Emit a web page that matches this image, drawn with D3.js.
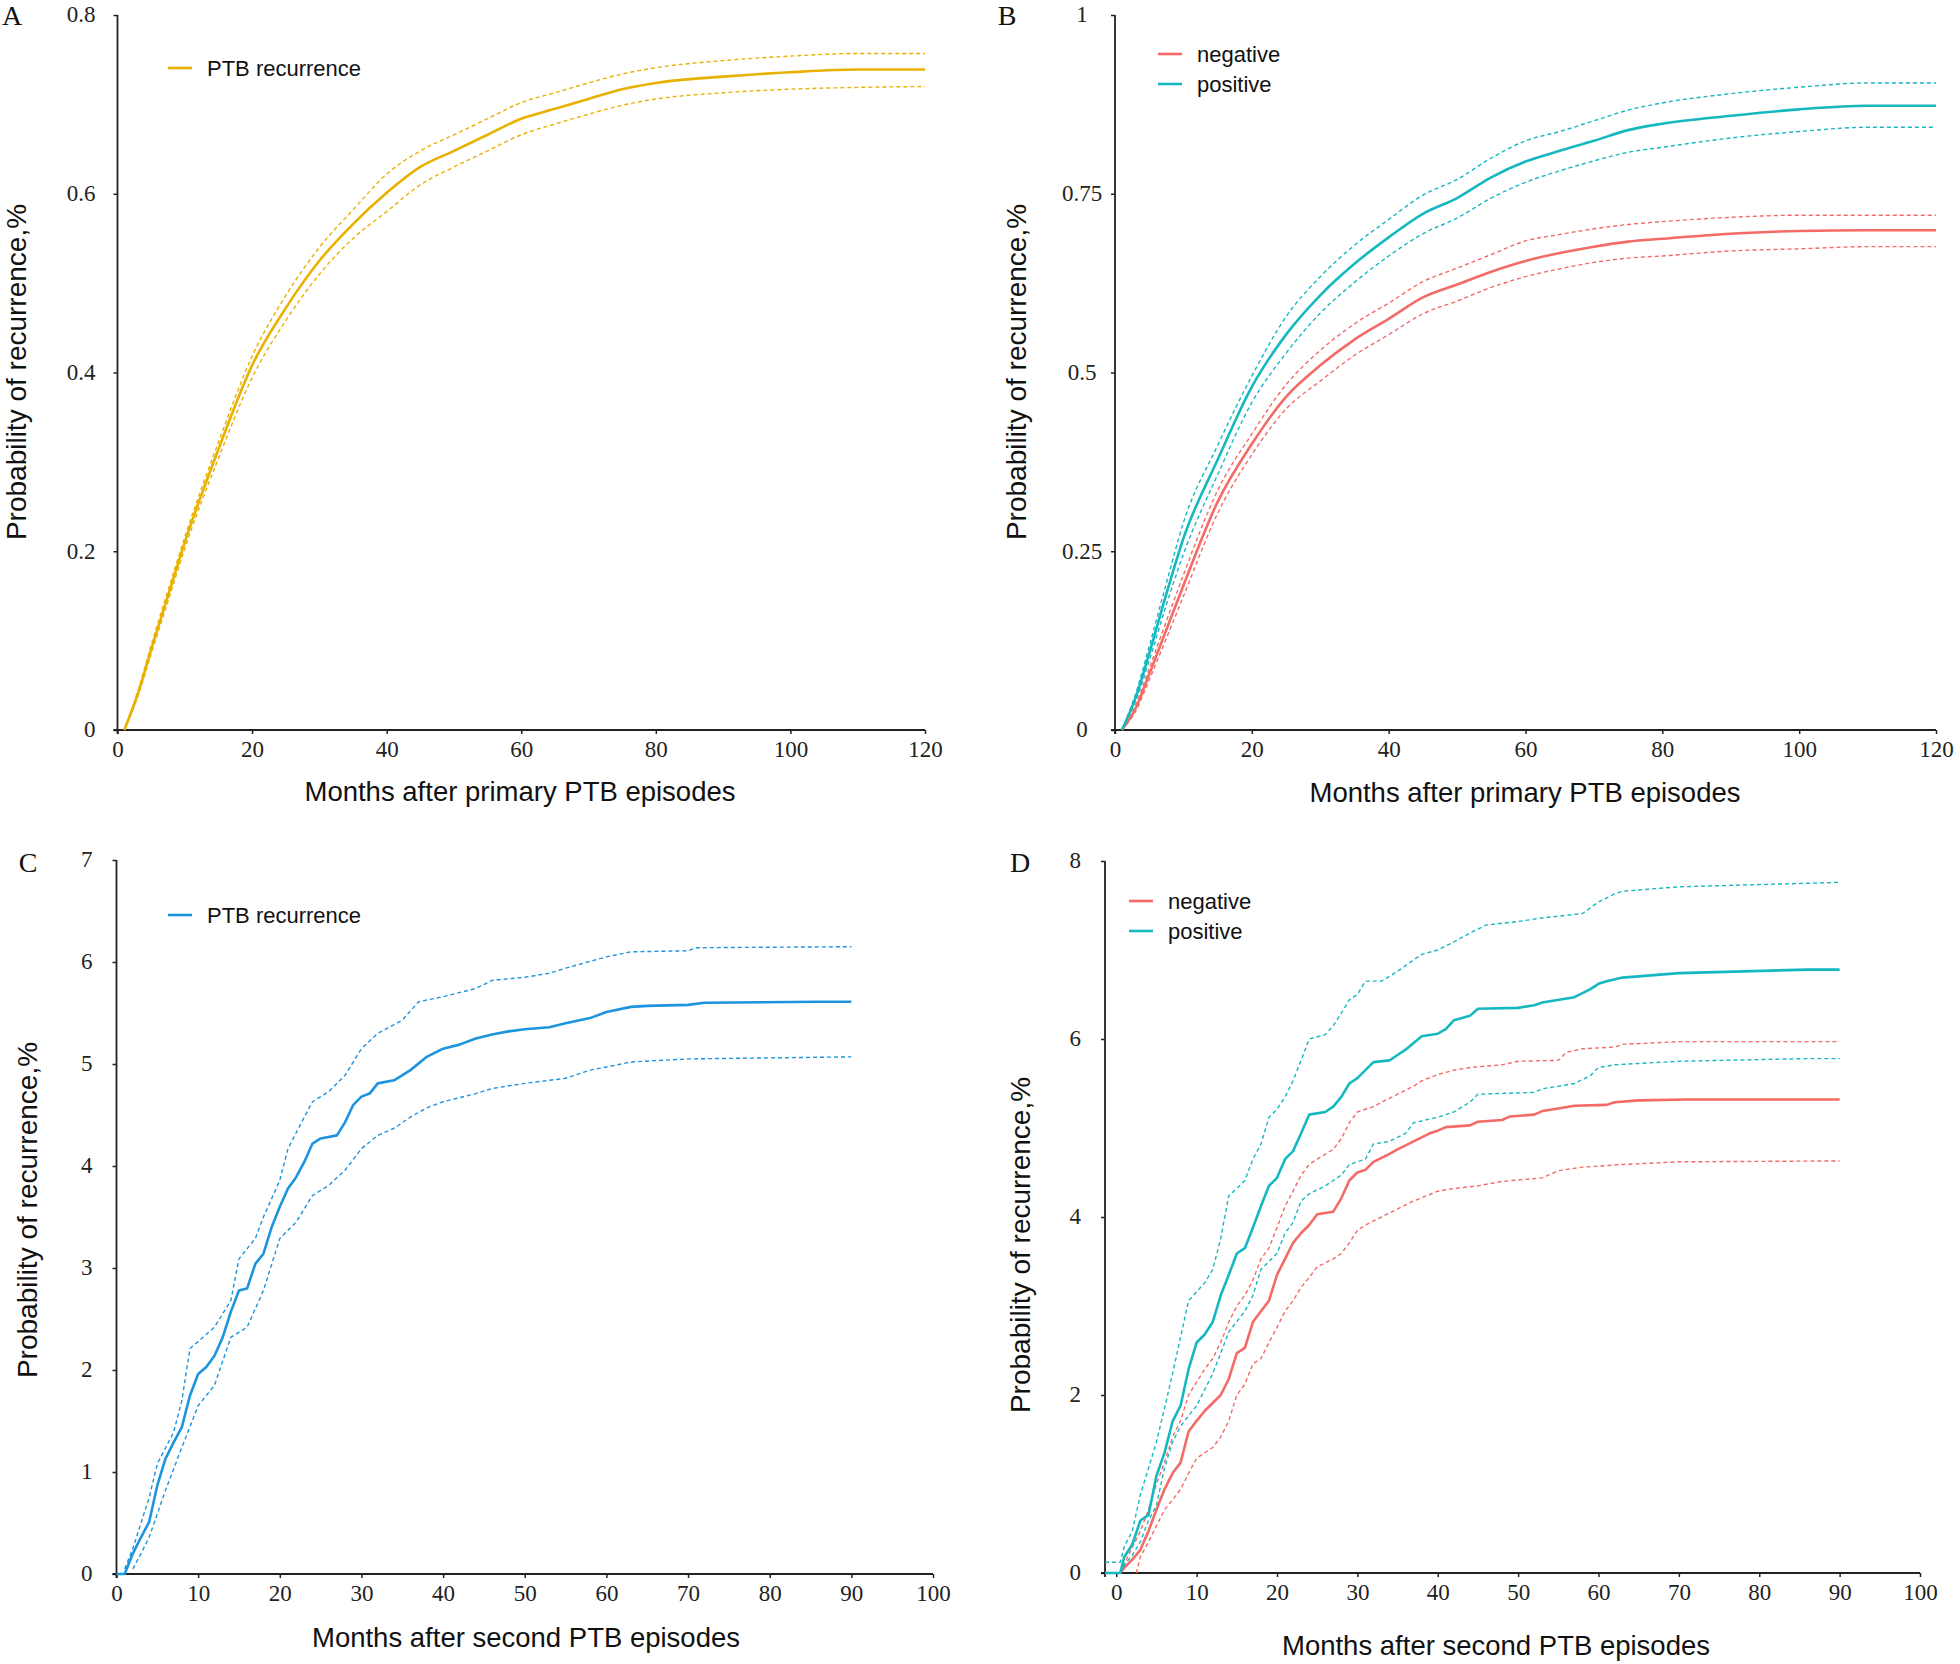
<!DOCTYPE html>
<html><head><meta charset="utf-8">
<script src="https://cdn.jsdelivr.net/npm/d3@7"></script>
<style>
html,body{margin:0;padding:0;background:#fff;}
svg{display:block;}
.tick text{font-family:"Liberation Serif","Times New Roman",serif;font-size:23px;fill:#222;}
</style></head>
<body><svg id="chart" width="1960" height="1664"></svg>
<script>
// ---------------- DATA ----------------
// Panel A: months after primary PTB episode, cumulative probability
const aMonths = [1,3,5,7.5,10,15,20,25,30,35,40,45,50,55,60,65,70,75,80,90,100,110,120];
const aEst   = [0,0.04,0.09,0.15,0.21,0.314,0.408,0.472,0.525,0.566,0.601,0.63,0.648,0.666,0.684,0.695,0.706,0.717,0.724,0.731,0.736,0.739,0.739];
const aLower = [0,0.037,0.085,0.144,0.203,0.304,0.394,0.458,0.51,0.55,0.58,0.61,0.63,0.648,0.666,0.678,0.689,0.699,0.706,0.713,0.717,0.719,0.72];
const aUpper = [0,0.043,0.095,0.156,0.216,0.322,0.418,0.486,0.54,0.582,0.622,0.648,0.666,0.684,0.702,0.713,0.724,0.734,0.741,0.749,0.754,0.757,0.757];

// Panel B
const bMonths = [1,3,5,7.5,10,15,20,25,30,35,40,45,50,55,60,65,70,75,80,90,100,110,120];
const bPosEst   = [0,0.045,0.107,0.19,0.268,0.378,0.48,0.553,0.608,0.652,0.689,0.722,0.744,0.773,0.795,0.81,0.824,0.839,0.848,0.859,0.868,0.873,0.873];
const bPosLower = [0,0.04,0.097,0.175,0.246,0.357,0.458,0.527,0.583,0.626,0.663,0.694,0.716,0.744,0.766,0.782,0.796,0.808,0.815,0.828,0.837,0.843,0.843];
const bPosUpper = [0,0.05,0.117,0.205,0.29,0.398,0.495,0.578,0.634,0.678,0.714,0.748,0.77,0.8,0.824,0.837,0.852,0.867,0.877,0.89,0.899,0.905,0.905];
const bNegEst   = [0,0.03,0.078,0.14,0.202,0.319,0.40,0.466,0.51,0.546,0.575,0.605,0.623,0.641,0.656,0.667,0.676,0.683,0.687,0.694,0.698,0.699,0.699];
const bNegLower = [0,0.026,0.07,0.128,0.187,0.303,0.385,0.449,0.488,0.524,0.553,0.582,0.6,0.619,0.634,0.645,0.654,0.66,0.663,0.67,0.673,0.676,0.676];
const bNegUpper = [0,0.034,0.086,0.152,0.217,0.335,0.414,0.483,0.531,0.568,0.597,0.627,0.646,0.665,0.684,0.693,0.701,0.707,0.711,0.717,0.72,0.72,0.72];

// Panel C: [month, %]
const cEst = [[0,0],[1,0],[2,0.2],[3,0.36],[4,0.51],[5,0.87],[6,1.13],[7,1.29],[8,1.44],[9,1.75],[10,1.96],[11,2.03],[12,2.14],[13,2.32],[14,2.57],[15,2.78],[16,2.8],[17,3.04],[18,3.14],[19,3.4],[20,3.6],[21,3.78],[22,3.89],[23,4.04],[24,4.22],[25,4.27],[27,4.3],[28,4.43],[29,4.6],[30,4.68],[31,4.71],[32,4.81],[34,4.84],[36,4.94],[38,5.07],[40,5.15],[42,5.19],[44,5.25],[46,5.29],[48,5.32],[50,5.34],[53,5.36],[55,5.4],[58,5.45],[60,5.51],[63,5.56],[65,5.57],[70,5.58],[72,5.6],[86,5.61],[90,5.61]];
const cUpper = [[1,0.05],[2,0.25],[3,0.5],[4,0.75],[5,1.08],[7,1.39],[8,1.7],[9,2.21],[12,2.42],[14,2.68],[15,3.09],[17,3.29],[18,3.5],[20,3.86],[21,4.17],[23,4.48],[24,4.63],[26,4.73],[28,4.89],[30,5.15],[32,5.3],[35,5.43],[37,5.61],[40,5.66],[44,5.74],[46,5.82],[50,5.85],[53,5.89],[55,5.94],[60,6.05],[63,6.1],[70,6.11],[71,6.14],[90,6.15]];
const cLower = [[2,0.05],[3,0.2],[4,0.36],[6,0.82],[8,1.24],[10,1.65],[12,1.85],[14,2.32],[16,2.42],[18,2.78],[20,3.29],[22,3.45],[24,3.71],[26,3.81],[28,3.96],[30,4.17],[32,4.3],[34,4.37],[36,4.48],[38,4.57],[40,4.63],[44,4.71],[46,4.76],[50,4.81],[55,4.86],[58,4.94],[60,4.97],[63,5.02],[70,5.05],[90,5.07]];

// Panel D: [month, %]
const dPosEst = [[-1.4,0],[0.5,0],[1,0.18],[2,0.32],[3,0.59],[4,0.65],[5,1.09],[6,1.35],[7,1.7],[8,1.88],[9,2.29],[10,2.59],[11,2.68],[12,2.82],[13,3.12],[14,3.35],[15,3.59],[16,3.65],[17,3.88],[18,4.12],[19,4.35],[20,4.44],[21,4.65],[22,4.74],[23,4.94],[24,5.15],[26,5.18],[27,5.24],[28,5.35],[29,5.5],[30,5.56],[31,5.65],[32,5.74],[34,5.76],[35,5.82],[36,5.88],[38,6.03],[40,6.06],[41,6.11],[42,6.21],[44,6.26],[45,6.34],[50,6.35],[52,6.38],[53,6.41],[57,6.47],[59,6.56],[60,6.62],[61,6.65],[63,6.69],[70,6.74],[86,6.78],[90,6.78]];
const dPosUpper = [[-1.4,0.12],[0.5,0.12],[1,0.3],[2,0.47],[3,0.88],[5,1.47],[6,1.85],[7,2.24],[9,3.06],[11,3.26],[12,3.41],[13,3.76],[14,4.24],[15,4.32],[16,4.41],[17,4.65],[18,4.82],[19,5.12],[20,5.21],[21,5.35],[22,5.53],[23,5.76],[24,6.0],[26,6.05],[27,6.15],[28,6.29],[29,6.44],[30,6.5],[31,6.65],[33,6.65],[35,6.76],[37,6.89],[38,6.95],[40,7.0],[42,7.09],[44,7.19],[46,7.28],[50,7.32],[53,7.36],[58,7.41],[60,7.54],[62,7.63],[63,7.66],[70,7.71],[86,7.75],[90,7.76]];
const dPosLower = [[0.5,0],[1,0.09],[2,0.2],[3,0.35],[4,0.59],[5,0.76],[6,1.18],[7,1.47],[8,1.65],[10,1.88],[12,2.24],[13,2.47],[14,2.71],[16,2.94],[17,3.12],[18,3.41],[20,3.59],[21,3.82],[22,3.94],[23,4.18],[24,4.26],[26,4.35],[28,4.47],[29,4.59],[31,4.65],[32,4.82],[34,4.85],[36,4.94],[37,5.06],[40,5.12],[42,5.18],[44,5.29],[45,5.38],[52,5.4],[53,5.44],[57,5.5],[59,5.59],[60,5.68],[62,5.71],[70,5.75],[86,5.78],[90,5.78]];
const dNegEst = [[0.5,0],[1,0.06],[2,0.15],[3,0.26],[4,0.47],[5,0.71],[6,0.94],[7,1.12],[8,1.24],[9,1.59],[10,1.71],[11,1.82],[12,1.91],[13,2.0],[14,2.18],[15,2.47],[16,2.53],[17,2.82],[18,2.94],[19,3.06],[20,3.35],[21,3.53],[22,3.71],[23,3.82],[24,3.91],[25,4.03],[27,4.06],[28,4.21],[29,4.41],[30,4.5],[31,4.53],[32,4.62],[34,4.71],[35,4.76],[37,4.85],[39,4.94],[40,4.97],[41,5.01],[44,5.03],[45,5.07],[48,5.09],[49,5.13],[52,5.15],[53,5.19],[55,5.22],[57,5.25],[61,5.26],[62,5.29],[65,5.31],[71,5.32],[90,5.32]];
const dNegUpper = [[0.5,0],[1,0.1],[2,0.29],[3,0.47],[4,0.71],[5,1.0],[6,1.24],[7,1.53],[8,1.71],[9,2.0],[11,2.29],[12,2.41],[13,2.59],[14,2.82],[15,3.0],[16,3.12],[17,3.29],[18,3.53],[19,3.65],[20,3.88],[21,4.12],[22,4.29],[23,4.47],[24,4.59],[25,4.65],[27,4.76],[28,4.88],[29,5.06],[30,5.18],[32,5.24],[33,5.29],[35,5.38],[37,5.47],[38,5.53],[40,5.6],[42,5.65],[44,5.68],[48,5.71],[50,5.75],[55,5.76],[56,5.85],[58,5.89],[62,5.91],[63,5.94],[70,5.97],[90,5.97]];
const dNegLower = [[2.5,0],[3,0.18],[4,0.35],[5,0.53],[6,0.71],[7,0.82],[8,0.94],[9,1.12],[10,1.29],[12,1.41],[13,1.53],[14,1.71],[15,2.0],[16,2.12],[17,2.35],[18,2.41],[19,2.59],[20,2.76],[21,2.94],[22,3.06],[23,3.21],[24,3.32],[25,3.44],[27,3.53],[28,3.59],[29,3.71],[30,3.85],[31,3.91],[33,4.0],[35,4.09],[37,4.18],[40,4.29],[42,4.32],[45,4.35],[48,4.4],[53,4.44],[55,4.52],[58,4.56],[63,4.59],[70,4.62],[90,4.63]];

// Tick values / labels
const abXTicks = [0,20,40,60,80,100,120];
const cdXTicks = [0,10,20,30,40,50,60,70,80,90,100];
const aYTicks = [0,0.2,0.4,0.6,0.8];
const aYLabels = ["0","0.2","0.4","0.6","0.8"];
const bYTicks = [0,0.25,0.5,0.75,1];
const bYLabels = ["0","0.25","0.5","0.75","1"];
const cYTicks = [0,1,2,3,4,5,6,7];
const dYTicks = [0,2,4,6,8];
const groupNames = ["negative","positive"];
const singleName = "PTB recurrence";
const yTitle = "Probability of recurrence,%";
const xTitlePrimary = "Months after primary PTB episodes";
const xTitleSecond = "Months after second PTB episodes";

// ---------------- STYLE ----------------
const COL_A = "#E8B100", COL_C = "#1C94DE", COL_NEG = "#F36A66", COL_POS = "#16B8C0";
const svg = d3.select("#chart");
const SANS = "'Liberation Sans', Arial, sans-serif";
const SERIF = "'Liberation Serif','Times New Roman',serif";

function zip(xs, ys){ return xs.map((x,i)=>[x, ys[i]]); }

const panels = [
  {letter:"A", lx:12, ly:15, xd:[0,120], xr:[117.5,925], yd:[0,0.8], yr:[730,15], xt:abXTicks, yt:aYTicks, yl:aYLabels, yAnchor:"end", yOff:22,
   xTitle:xTitlePrimary, xTitleX:520, xTitleY:791, yTitleX:16, yTitleY:372, curve:d3.curveMonotoneX,
   series:[{d:zip(aMonths,aEst),c:COL_A,main:true},{d:zip(aMonths,aLower),c:COL_A},{d:zip(aMonths,aUpper),c:COL_A}],
   legend:[{name:singleName,c:COL_A}], legX:168, legY:68},
  {letter:"B", lx:1007, ly:15, xd:[0,120], xr:[1115,1936], yd:[0,1], yr:[730,15], xt:abXTicks, yt:bYTicks, yl:bYLabels, yAnchor:"middle", yOff:33,
   xTitle:xTitlePrimary, xTitleX:1525, xTitleY:792, yTitleX:1016, yTitleY:372, curve:d3.curveMonotoneX,
   series:[{d:zip(bMonths,bNegEst),c:COL_NEG,main:true},{d:zip(bMonths,bNegLower),c:COL_NEG},{d:zip(bMonths,bNegUpper),c:COL_NEG},
           {d:zip(bMonths,bPosEst),c:COL_POS,main:true},{d:zip(bMonths,bPosLower),c:COL_POS},{d:zip(bMonths,bPosUpper),c:COL_POS}],
   legend:[{name:groupNames[0],c:COL_NEG},{name:groupNames[1],c:COL_POS}], legX:1158, legY:54},
  {letter:"C", lx:28, ly:862, xd:[0,100], xr:[116.5,933], yd:[0,7], yr:[1574,860], xt:cdXTicks, yt:cYTicks, yl:cYTicks.map(String), yAnchor:"end", yOff:24,
   xTitle:xTitleSecond, xTitleX:526, xTitleY:1637, yTitleX:27, yTitleY:1210, curve:d3.curveLinear,
   series:[{d:cEst,c:COL_C,main:true},{d:cLower,c:COL_C},{d:cUpper,c:COL_C}],
   legend:[{name:singleName,c:COL_C}], legX:168, legY:915},
  {letter:"D", lx:1020, ly:862, xd:[-1.4,100], xr:[1105,1920], yd:[0,8], yr:[1573,861], xt:cdXTicks, yt:dYTicks, yl:dYTicks.map(String), yAnchor:"end", yOff:24,
   xTitle:xTitleSecond, xTitleX:1496, xTitleY:1645, yTitleX:1020, yTitleY:1245, curve:d3.curveLinear,
   series:[{d:dNegEst,c:COL_NEG,main:true},{d:dNegLower,c:COL_NEG},{d:dNegUpper,c:COL_NEG},
           {d:dPosEst,c:COL_POS,main:true},{d:dPosLower,c:COL_POS},{d:dPosUpper,c:COL_POS}],
   legend:[{name:groupNames[0],c:COL_NEG},{name:groupNames[1],c:COL_POS}], legX:1129, legY:901}
];

panels.forEach(p => {
  const g = svg.append("g");
  const x = d3.scaleLinear().domain(p.xd).range(p.xr);
  const y = d3.scaleLinear().domain(p.yd).range(p.yr);
  const x0 = p.xr[0], y0 = p.yr[0];

  // x axis
  const xa = d3.axisBottom(x).tickValues(p.xt).tickSize(4).tickSizeOuter(0).tickPadding(7).tickFormat(d3.format("d"));
  const gx = g.append("g").attr("transform", `translate(0,${y0})`).call(xa);
  gx.select(".domain").remove();
  gx.selectAll(".tick line").attr("stroke","#222").attr("stroke-width",1.5);
  gx.append("line").attr("x1", x0-4).attr("x2", p.xr[1]).attr("y1",0).attr("y2",0).attr("stroke","#222").attr("stroke-width",1.8);

  // y axis
  const ya = d3.axisLeft(y).tickValues(p.yt).tickSize(4).tickSizeOuter(0).tickFormat((d,i)=>p.yl[i]);
  const gy = g.append("g").attr("transform", `translate(${x0},0)`).call(ya);
  gy.select(".domain").remove();
  gy.selectAll(".tick line").attr("stroke","#222").attr("stroke-width",1.5);
  gy.selectAll(".tick text").attr("text-anchor", p.yAnchor).attr("x", -p.yOff).attr("dy","0.3em");
  gy.append("line").attr("x1",0).attr("x2",0).attr("y1", y0+4).attr("y2", p.yr[1]).attr("stroke","#222").attr("stroke-width",1.8);

  // series
  const line = d3.line().x(d=>x(d[0])).y(d=>y(d[1])).curve(p.curve);
  p.series.forEach(s => {
    g.append("path").attr("d", line(s.d)).attr("fill","none").attr("stroke", s.c)
      .attr("stroke-width", s.main ? 2.6 : 1.4)
      .attr("stroke-linejoin","round")
      .attr("stroke-dasharray", s.main ? null : "4,3");
  });

  // legend
  p.legend.forEach((l,i) => {
    const ly = p.legY + i*30;
    g.append("line").attr("x1",p.legX).attr("x2",p.legX+24).attr("y1",ly).attr("y2",ly).attr("stroke",l.c).attr("stroke-width",2.6);
    g.append("text").attr("x",p.legX+39).attr("y",ly).attr("dy","0.35em").attr("font-family",SANS).attr("font-size",22).attr("fill","#111").text(l.name);
  });

  // titles
  g.append("text").attr("x",p.xTitleX).attr("y",p.xTitleY).attr("dy","0.35em").attr("text-anchor","middle")
    .attr("font-family",SANS).attr("font-size",27.5).attr("fill","#111").text(p.xTitle);
  g.append("text").attr("transform",`translate(${p.yTitleX},${p.yTitleY}) rotate(-90)`).attr("dy","0.35em").attr("text-anchor","middle")
    .attr("font-family",SANS).attr("font-size",28).attr("fill","#111").text(yTitle);
  g.append("text").attr("x",p.lx).attr("y",p.ly).attr("dy","0.35em").attr("text-anchor","middle")
    .attr("font-family",SERIF).attr("font-size",28).attr("fill","#111").text(p.letter);
});
</script></body></html>
